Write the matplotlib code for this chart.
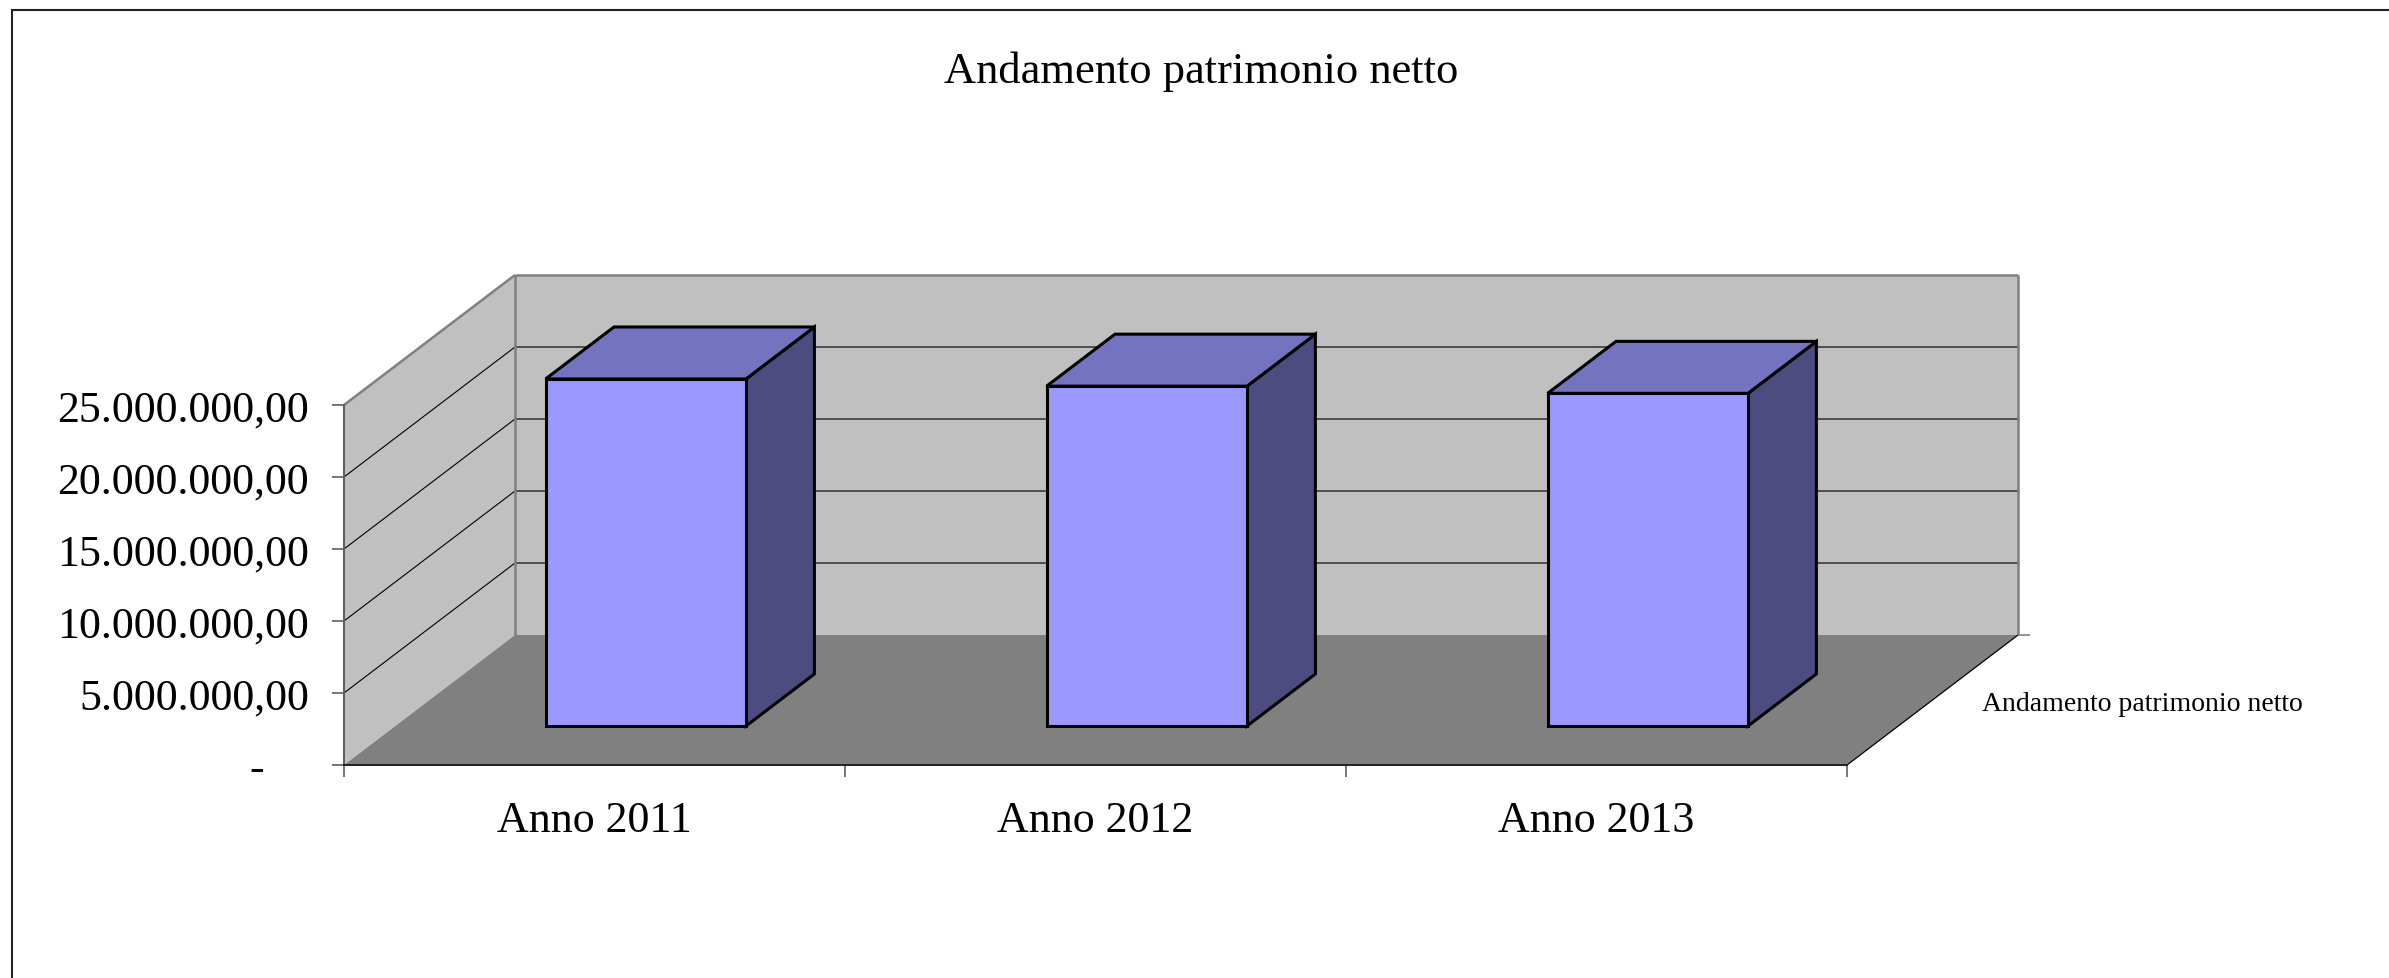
import matplotlib
matplotlib.use("Agg")
import matplotlib.pyplot as plt
from matplotlib.patches import Polygon, Rectangle
from matplotlib.ticker import FixedLocator, FuncFormatter

plt.rcParams["font.family"] = ["Liberation Serif", "DejaVu Serif"]

# ── dati ──────────────────────────────────────────────
categorie = ["Anno 2011", "Anno 2012", "Anno 2013"]
valori = [24_100_000, 23_600_000, 23_100_000]
serie = "Andamento patrimonio netto"
y_ticks = [0, 5_000_000, 10_000_000, 15_000_000, 20_000_000, 25_000_000]

W, H, DPI = 2389, 979, 100
fig = plt.figure(figsize=(W / DPI, H / DPI), dpi=DPI)

# piano frontale del grafico 3D (pixel)
left_px, right_px, base_px, top_px = 344, 1847, 766, 406
ax = fig.add_axes([left_px / W, 1 - base_px / H,
                   (right_px - left_px) / W, (base_px - top_px) / H])
n = len(categorie)
ymax = y_ticks[-1]
ax.set_xlim(0, n)
ax.set_ylim(0, ymax)
ax.set_facecolor("none")

# profondità (pixel) convertita in unità dati
dx = 171 * n / (right_px - left_px)
dy = 130 * ymax / (base_px - top_px)


def P(x, y, d):
    return (x + d * dx, y + d * dy)


def faccia(pts, color, z, **kw):
    ax.add_patch(Polygon([P(*p) for p in pts], closed=True, facecolor=color,
                         clip_on=False, zorder=z, **kw))


def linea(p0, p1, **kw):
    a, b = P(*p0), P(*p1)
    ax.plot([a[0], b[0]], [a[1], b[1]], clip_on=False, solid_capstyle="butt", **kw)


# pareti e pavimento
faccia([(0, 0, 0), (0, 0, 1), (0, ymax, 1), (0, ymax, 0)], "#C0C0C0", 1, edgecolor="none")
faccia([(0, 0, 1), (n, 0, 1), (n, ymax, 1), (0, ymax, 1)], "#C0C0C0", 1, edgecolor="none")
faccia([(0, 0, 0), (n, 0, 0), (n, 0, 1), (0, 0, 1)], "#808080", 1.1, edgecolor="none")

# griglia
for y in y_ticks[1:-1]:
    linea((0, y, 0), (0, y, 1), color="black", lw=0.8, zorder=1.5)
    linea((0, y, 1), (n, y, 1), color="#303030", lw=1.1, zorder=1.5)

# bordi delle pareti
grigio = dict(color="#808080", lw=1.8, zorder=1.6)
linea((0, 0, 1), (0, ymax, 1), **grigio)
linea((0, ymax, 1), (n, ymax, 1), **grigio)
linea((n, ymax, 1), (n, 0, 1), **grigio)
linea((0, ymax, 0), (0, ymax, 1), **grigio)
linea((n, 0, 0), (n, 0, 1), color="black", lw=0.9, zorder=1.6)
linea((n, 0, 1), (n + 12 * n / (right_px - left_px), 0, 1), color="#808080", lw=1.2, zorder=1.6)

# barre 3D
for i, v in enumerate(valori):
    x0, x1, d0, d1 = i + 0.3, i + 0.7, 0.3, 0.7
    stile = dict(edgecolor="black", linewidth=2.2, joinstyle="miter")
    faccia([(x1, 0, d0), (x1, 0, d1), (x1, v, d1), (x1, v, d0)], "#4C4C80", 3, **stile)
    faccia([(x0, v, d0), (x1, v, d0), (x1, v, d1), (x0, v, d1)], "#7373BF", 3, **stile)
    faccia([(x0, 0, d0), (x1, 0, d0), (x1, v, d0), (x0, v, d0)], "#9999FF", 3, **stile)


# assi
def formato(v, pos):
    if v == 0:
        return "-\u2007\u2007"
    s = f"{v:,.2f}"
    return s.replace(",", "X").replace(".", ",").replace("X", ".")


ax.yaxis.set_major_locator(FixedLocator(y_ticks))
ax.yaxis.set_major_formatter(FuncFormatter(formato))
ax.tick_params(axis="y", direction="out", length=8.6, width=1.2, color="#606060",
               pad=16.6, labelsize=31.7)

ax.set_xticks(range(n + 1), labels=[""] * (n + 1))
ax.set_xticks([i + 0.5 for i in range(n)], labels=categorie, minor=True)
ax.tick_params(axis="x", which="major", direction="out", length=8.6, width=1.2, color="#606060")
ax.tick_params(axis="x", which="minor", length=0, pad=25, labelsize=31.7)

for s in ["top", "right"]:
    ax.spines[s].set_visible(False)
ax.spines["left"].set_color("#606060")
ax.spines["left"].set_linewidth(1.5)
ax.spines["bottom"].set_color("#202020")
ax.spines["bottom"].set_linewidth(1.4)
for s in ax.spines.values():
    s.set_zorder(2)

# etichetta della serie sull'asse di profondità
ax.annotate(serie, xy=P(n, 0, 0.5), xytext=(36, -7), textcoords="offset points",
            ha="left", va="baseline", fontsize=20, annotation_clip=False)

fig.text(1201 / W, 1 - 83 / H, serie, ha="center", va="baseline", fontsize=32)

# cornice
fig.add_artist(Rectangle((12 / W, -0.05), 1.1, 1 - 11 / H + 0.05, transform=fig.transFigure,
                         fill=False, edgecolor="#222222", lw=1.5))

fig.savefig("out.png", dpi=DPI)
